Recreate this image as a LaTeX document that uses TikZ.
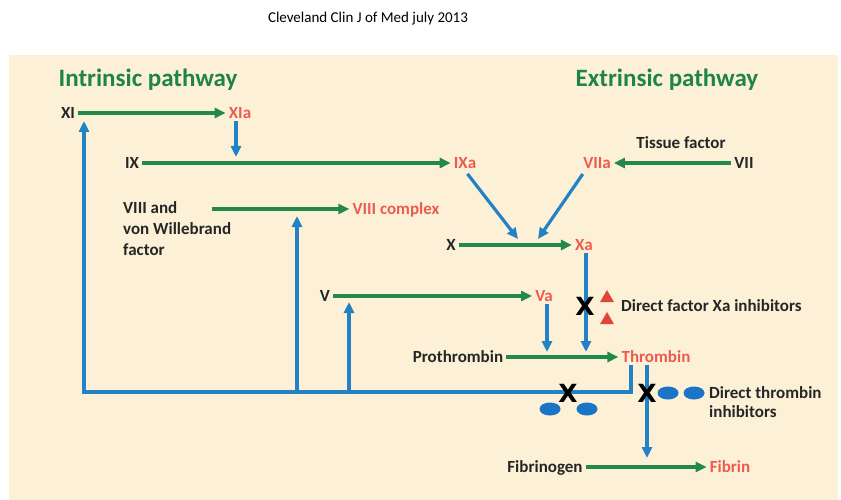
\documentclass[tikz,border=0pt]{standalone}
\usepackage{fontspec}
\setmainfont{Carlito}
\newfontfamily\xfont{DejaVu Sans}
\usetikzlibrary{arrows.meta,shapes.geometric}
\definecolor{cream}{HTML}{FCF1D7}
\definecolor{pgreen}{HTML}{23894A}
\definecolor{pblue}{HTML}{2382C4}
\definecolor{ered}{HTML}{EC5B50}
\definecolor{tred}{HTML}{E0453A}
\definecolor{eblue}{HTML}{1B74C6}
\definecolor{tgreen}{HTML}{1F8447}
\tikzset{
  lab/.style={font=\bfseries\fontsize{17}{20}\selectfont, text=black!85, inner sep=2pt, text height=11pt, text depth=0pt},
  act/.style={lab, text=ered},
  ttl/.style={font=\bfseries\fontsize{25}{28}\selectfont, text=tgreen, inner sep=0pt},
  garrow/.style={draw=pgreen, line width=3.2pt, -{Triangle[length=11pt,width=10pt]}, shorten >=1pt, shorten <=1pt},
  barrow/.style={draw=pblue, line width=3.2pt, -{Triangle[length=11pt,width=10pt]}},
  xmark/.style={font=\xfont\bfseries\fontsize{25}{28}\selectfont, inner sep=0pt},
  tri/.style={regular polygon, regular polygon sides=3, fill=tred, minimum size=16pt, inner sep=0pt},
  oval/.style={ellipse, fill=eblue, minimum width=21pt, minimum height=13pt, inner sep=0pt}
}
\begin{document}
\begin{tikzpicture}[x=1pt,y=-1pt]
\useasboundingbox (0,0) rectangle (841,500);
\fill[white] (0,0) rectangle (841,500);
\fill[cream] (9,55) rectangle (838,500);
\node[font=\fontsize{15}{18}\selectfont] (cap) at (368,19) {Cleveland Clin J of Med july 2013};
\node[ttl] (intr) at (148,80) {Intrinsic pathway};
\node[ttl] (extr) at (667,80) {Extrinsic pathway};
% nodes
\node[lab] (XI) at (68,113) {XI};
\node[act] (XIa) at (240,113) {XIa};
\node[lab] (IX) at (132,163) {IX};
\node[act] (IXa) at (465,163) {IXa};
\node[act] (VIIa) at (597,163) {VIIa};
\node[lab] (VII) at (744,163) {VII};
\node[lab] (tf) at (681,143) {Tissue factor};
\node[lab, text height=, align=left, font=\bfseries\fontsize{17}{21}\selectfont, anchor=north west] (VIII) at (121,199) {VIII and\\von Willebrand\\factor};
\node[act] (VIIIc) at (396,209) {VIII complex};
\node[lab] (X) at (451,245) {X};
\node[act] (Xa) at (584,245) {Xa};
\node[lab] (V) at (325,296) {V};
\node[act] (Va) at (544,296) {Va};
\node[lab] (pro) at (458,357) {Prothrombin};
\node[act] (thr) at (656,357) {Thrombin};
\node[lab] (fgen) at (545,467) {Fibrinogen};
\node[act] (fib) at (730,467) {Fibrin};
\node[lab, anchor=west] (dxa) at (619,306) {Direct factor Xa inhibitors};
\node[lab, text height=, align=left, font=\bfseries\fontsize{17}{19}\selectfont, anchor=north west] (dti) at (707,384) {Direct thrombin\\inhibitors};
% coordinates
\coordinate (c1) at (236,157);
\coordinate (d1) at (518,239);
\coordinate (d2) at (538,239);
\coordinate (vs) at (211,209);
\coordinate (c3) at (586,352);
\coordinate (c4) at (547,352);
\coordinate (t1) at (631,392);
\coordinate (l1) at (84,392);
\coordinate (l2) at (84,121);
\coordinate (b1) at (297,392);
\coordinate (b1e) at (297,216);
\coordinate (b2) at (349,392);
\coordinate (b2e) at (349,302);
\coordinate (t2) at (647,458);
% green arrows
\draw[garrow] (XI) -- (XIa);
\draw[garrow] (IX) -- (IXa);
\draw[garrow] (VII) -- (VIIa);
\draw[garrow] (vs) -- (VIIIc);
\draw[garrow] (X) -- (Xa);
\draw[garrow] (V) -- (Va);
\draw[garrow] (pro) -- (thr);
\draw[garrow] (fgen) -- (fib);
% blue arrows
\draw[barrow] (c1 |- XIa.south) -- (c1);
\draw[barrow, shorten <=4pt] (IXa.south) -- (d1);
\draw[barrow, shorten <=4pt] (VIIa.south west) ++(4,0) -- (d2);
\draw[barrow] (c3 |- Xa.south) -- (c3);
\draw[barrow] (c4 |- Va.south) -- (c4);
\draw[barrow] (t1 |- thr.south) -- (t1) -- (l1) -- (l2);
\draw[barrow] (b1) -- (b1e);
\draw[barrow] (b2) -- (b2e);
\draw[barrow] (t2 |- thr.south) -- (t2);
% inhibitors
\node[xmark] (x1) at (585,306) {X};
\node[tri] (tr1) at (607,298) {};
\node[tri] (tr2) at (607,320) {};
\node[xmark] (x2) at (568,393) {X};
\node[oval] (o1) at (550,409) {};
\node[oval] (o2) at (587,409) {};
\node[xmark] (x3) at (647,393) {X};
\node[oval] (o3) at (668,393) {};
\node[oval] (o4) at (694,393) {};
\end{tikzpicture}
\end{document}
